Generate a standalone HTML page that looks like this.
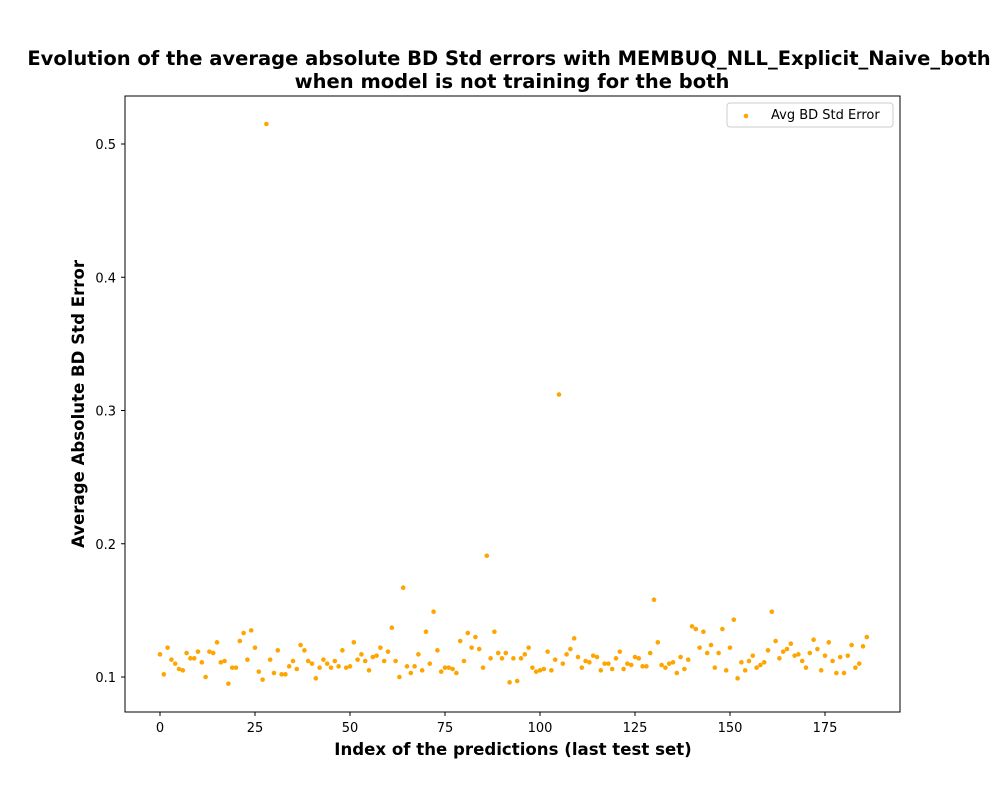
<!DOCTYPE html>
<html><head><meta charset="utf-8"><style>
body{margin:0;background:#fff;}
svg{display:block;font-family:"DejaVu Sans","Liberation Sans",sans-serif;}
</style></head><body>
<svg id="chart" width="1000" height="800">
<text x="509" y="65" text-anchor="middle" font-size="19.5" font-weight="bold">Evolution of the average absolute BD Std errors with MEMBUQ_NLL_Explicit_Naive_both</text>
<text x="512" y="88" text-anchor="middle" font-size="19.5" font-weight="bold">when model is not training for the both</text>
<g id="points"></g>
<rect x="125" y="96" width="775" height="616" fill="none" stroke="#000" stroke-width="1"/>
<g id="xt"></g>
<g id="yt"></g>
<text x="513" y="755" text-anchor="middle" font-size="16.6" font-weight="bold">Index of the predictions (last test set)</text>
<text transform="translate(84,404) rotate(-90)" text-anchor="middle" font-size="16.6" font-weight="bold">Average Absolute BD Std Error</text>
<g>
<rect x="727" y="103" width="166" height="24" rx="3" fill="#fff" stroke="#ccc"/>
<circle cx="746" cy="116" r="2.3" fill="orange"/>
<text x="771" y="119" font-size="13">Avg BD Std Error</text>
</g>
</svg>
<script>
const values=[0.117,0.102,0.122,0.113,0.110,0.106,0.105,0.118,0.114,0.114,0.119,0.111,0.100,0.119,0.118,0.126,0.111,0.112,0.095,0.107,0.107,0.127,0.133,0.113,0.135,0.122,0.104,0.098,0.515,0.113,0.103,0.120,0.102,0.102,0.108,0.112,0.106,0.124,0.120,0.112,0.110,0.099,0.107,0.113,0.110,0.107,0.112,0.108,0.120,0.107,0.108,0.126,0.113,0.117,0.112,0.105,0.115,0.116,0.122,0.112,0.119,0.137,0.112,0.100,0.167,0.108,0.103,0.108,0.117,0.105,0.134,0.110,0.149,0.120,0.104,0.107,0.107,0.106,0.103,0.127,0.112,0.133,0.122,0.130,0.121,0.107,0.191,0.114,0.134,0.118,0.114,0.118,0.096,0.114,0.097,0.114,0.117,0.122,0.107,0.104,0.105,0.106,0.119,0.105,0.113,0.312,0.110,0.117,0.121,0.129,0.115,0.107,0.112,0.111,0.116,0.115,0.105,0.110,0.110,0.106,0.114,0.119,0.106,0.110,0.109,0.115,0.114,0.108,0.108,0.118,0.158,0.126,0.109,0.107,0.110,0.111,0.103,0.115,0.106,0.113,0.138,0.136,0.122,0.134,0.118,0.124,0.107,0.118,0.136,0.105,0.122,0.143,0.099,0.111,0.105,0.112,0.116,0.107,0.109,0.111,0.120,0.149,0.127,0.114,0.119,0.121,0.125,0.116,0.117,0.112,0.107,0.118,0.128,0.121,0.105,0.116,0.126,0.112,0.103,0.115,0.103,0.116,0.124,0.107,0.110,0.123,0.130];
const xTicks=[0,25,50,75,100,125,150,175];
const yTicks=[0.1,0.2,0.3,0.4,0.5];
const yTickLabels=["0.1","0.2","0.3","0.4","0.5"];
const NS="http://www.w3.org/2000/svg";
function xs(i){return 160+3.8*i;}
function ys(v){return 677-(v-0.1)*1332.5;}
const pg=document.getElementById('points');
values.forEach((v,i)=>{
const c=document.createElementNS(NS,'circle');
c.setAttribute('cx',xs(i));c.setAttribute('cy',ys(v));c.setAttribute('r',2.3);c.setAttribute('fill','orange');


pg.appendChild(c);});
const xg=document.getElementById('xt');
xTicks.forEach(t=>{
const l=document.createElementNS(NS,'line');
l.setAttribute('x1',xs(t));l.setAttribute('x2',xs(t));l.setAttribute('y1',712);l.setAttribute('y2',716);l.setAttribute('stroke','#000');


xg.appendChild(l);
const tx=document.createElementNS(NS,'text');
tx.setAttribute('x',xs(t));tx.setAttribute('y',732);tx.setAttribute('text-anchor','middle');tx.setAttribute('font-size','13');
tx.textContent=String(t);


xg.appendChild(tx);});
const yg=document.getElementById('yt');
yTicks.forEach((t,k)=>{
const l=document.createElementNS(NS,'line');
l.setAttribute('x1',121);l.setAttribute('x2',125);l.setAttribute('y1',ys(t));l.setAttribute('y2',ys(t));l.setAttribute('stroke','#000');


yg.appendChild(l);
const tx=document.createElementNS(NS,'text');
tx.setAttribute('x',116);tx.setAttribute('y',ys(t)+5);tx.setAttribute('text-anchor','end');tx.setAttribute('font-size','13');
tx.textContent=yTickLabels[k];


yg.appendChild(tx);});
</script>
</body></html>
